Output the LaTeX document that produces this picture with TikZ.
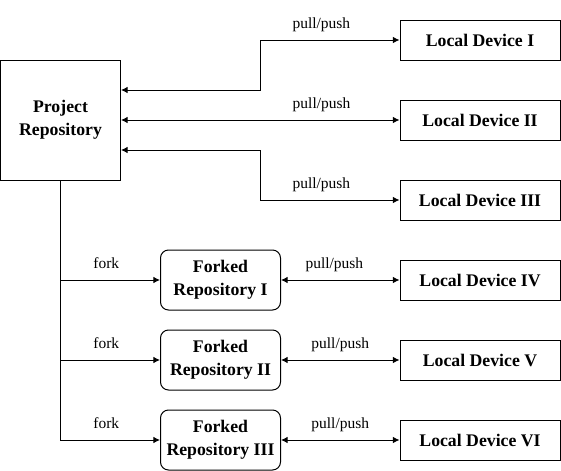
\documentclass[tikz,border=0pt]{standalone}
\usepackage{fontspec}
\setmainfont{Liberation Serif}
\usetikzlibrary{arrows.meta,positioning,calc}

\tikzset{
  boxtext/.style={font=\fontsize{13.3}{17}\selectfont\bfseries, align=center, inner sep=0pt},
  projbox/.style={boxtext, draw, line width=0.75pt, minimum width=90pt, minimum height=90pt},
  devbox/.style={boxtext, draw, line width=0.75pt, minimum width=120pt, minimum height=30pt},
  forkbox/.style={boxtext, draw, line width=0.75pt, rounded corners=6pt, minimum width=90pt, minimum height=45pt},
  lbl/.style={font=\fontsize{11.6}{14}\selectfont, inner sep=0pt, text height=0.7em, text depth=0.22em, above=6.3pt},
  link/.style={line width=0.75pt, {Latex[length=5pt,width=5pt]}-{Latex[length=5pt,width=5pt]}},
  forklink/.style={line width=0.75pt, -{Latex[length=5pt,width=5pt]}}
}

\begin{document}
\begin{tikzpicture}[x=0.75pt, y=-0.75pt]
  \useasboundingbox (0,0) rectangle (561,471);
  \begin{scope}
    \node[projbox] (proj) at (60.5,120) {Project\\Repository};
    \node[devbox] (dev1) at (480,40) {Local Device I};
    \node[devbox] (dev2) at (480,120) {Local Device II};
    \node[devbox] (dev3) at (480,200) {Local Device III};
    \node[forkbox] (fork1) at (220.5,280) {Forked\\Repository I};
    \node[forkbox] (fork2) at (220.5,360) {Forked\\Repository II};
    \node[forkbox] (fork3) at (220.5,440) {Forked\\Repository III};
    \node[devbox] (dev4) at (480,280) {Local Device IV};
    \node[devbox] (dev5) at (480,360) {Local Device V};
    \node[devbox] (dev6) at (480,440) {Local Device VI};
    % project repository <-> local devices
    \draw[link] ($(proj.east)+(0,-30)$) -- ++(139,0) |- node[lbl, pos=0.72] {pull/push} (dev1.west);
    \draw[link] (proj.east) -- node[lbl, pos=0.72] {pull/push} (dev2.west);
    \draw[link] ($(proj.east)+(0,30)$) -- ++(139,0) |- node[lbl, pos=0.72] {pull/push} (dev3.west);
    % forks
    \draw[forklink] (proj.south) |- node[lbl, pos=0.73] {fork} (fork1.west);
    \draw[forklink] (proj.south) |- node[lbl, pos=0.73] {fork} (fork2.west);
    \draw[forklink] (proj.south) |- node[lbl, pos=0.73] {fork} (fork3.west);
    % forked repositories <-> local devices
    \draw[link] (fork1.east) -- node[lbl, pos=0.45] {pull/push} (dev4.west);
    \draw[link] (fork2.east) -- node[lbl] {pull/push} (dev5.west);
    \draw[link] (fork3.east) -- node[lbl] {pull/push} (dev6.west);
  \end{scope}
\end{tikzpicture}
\end{document}
